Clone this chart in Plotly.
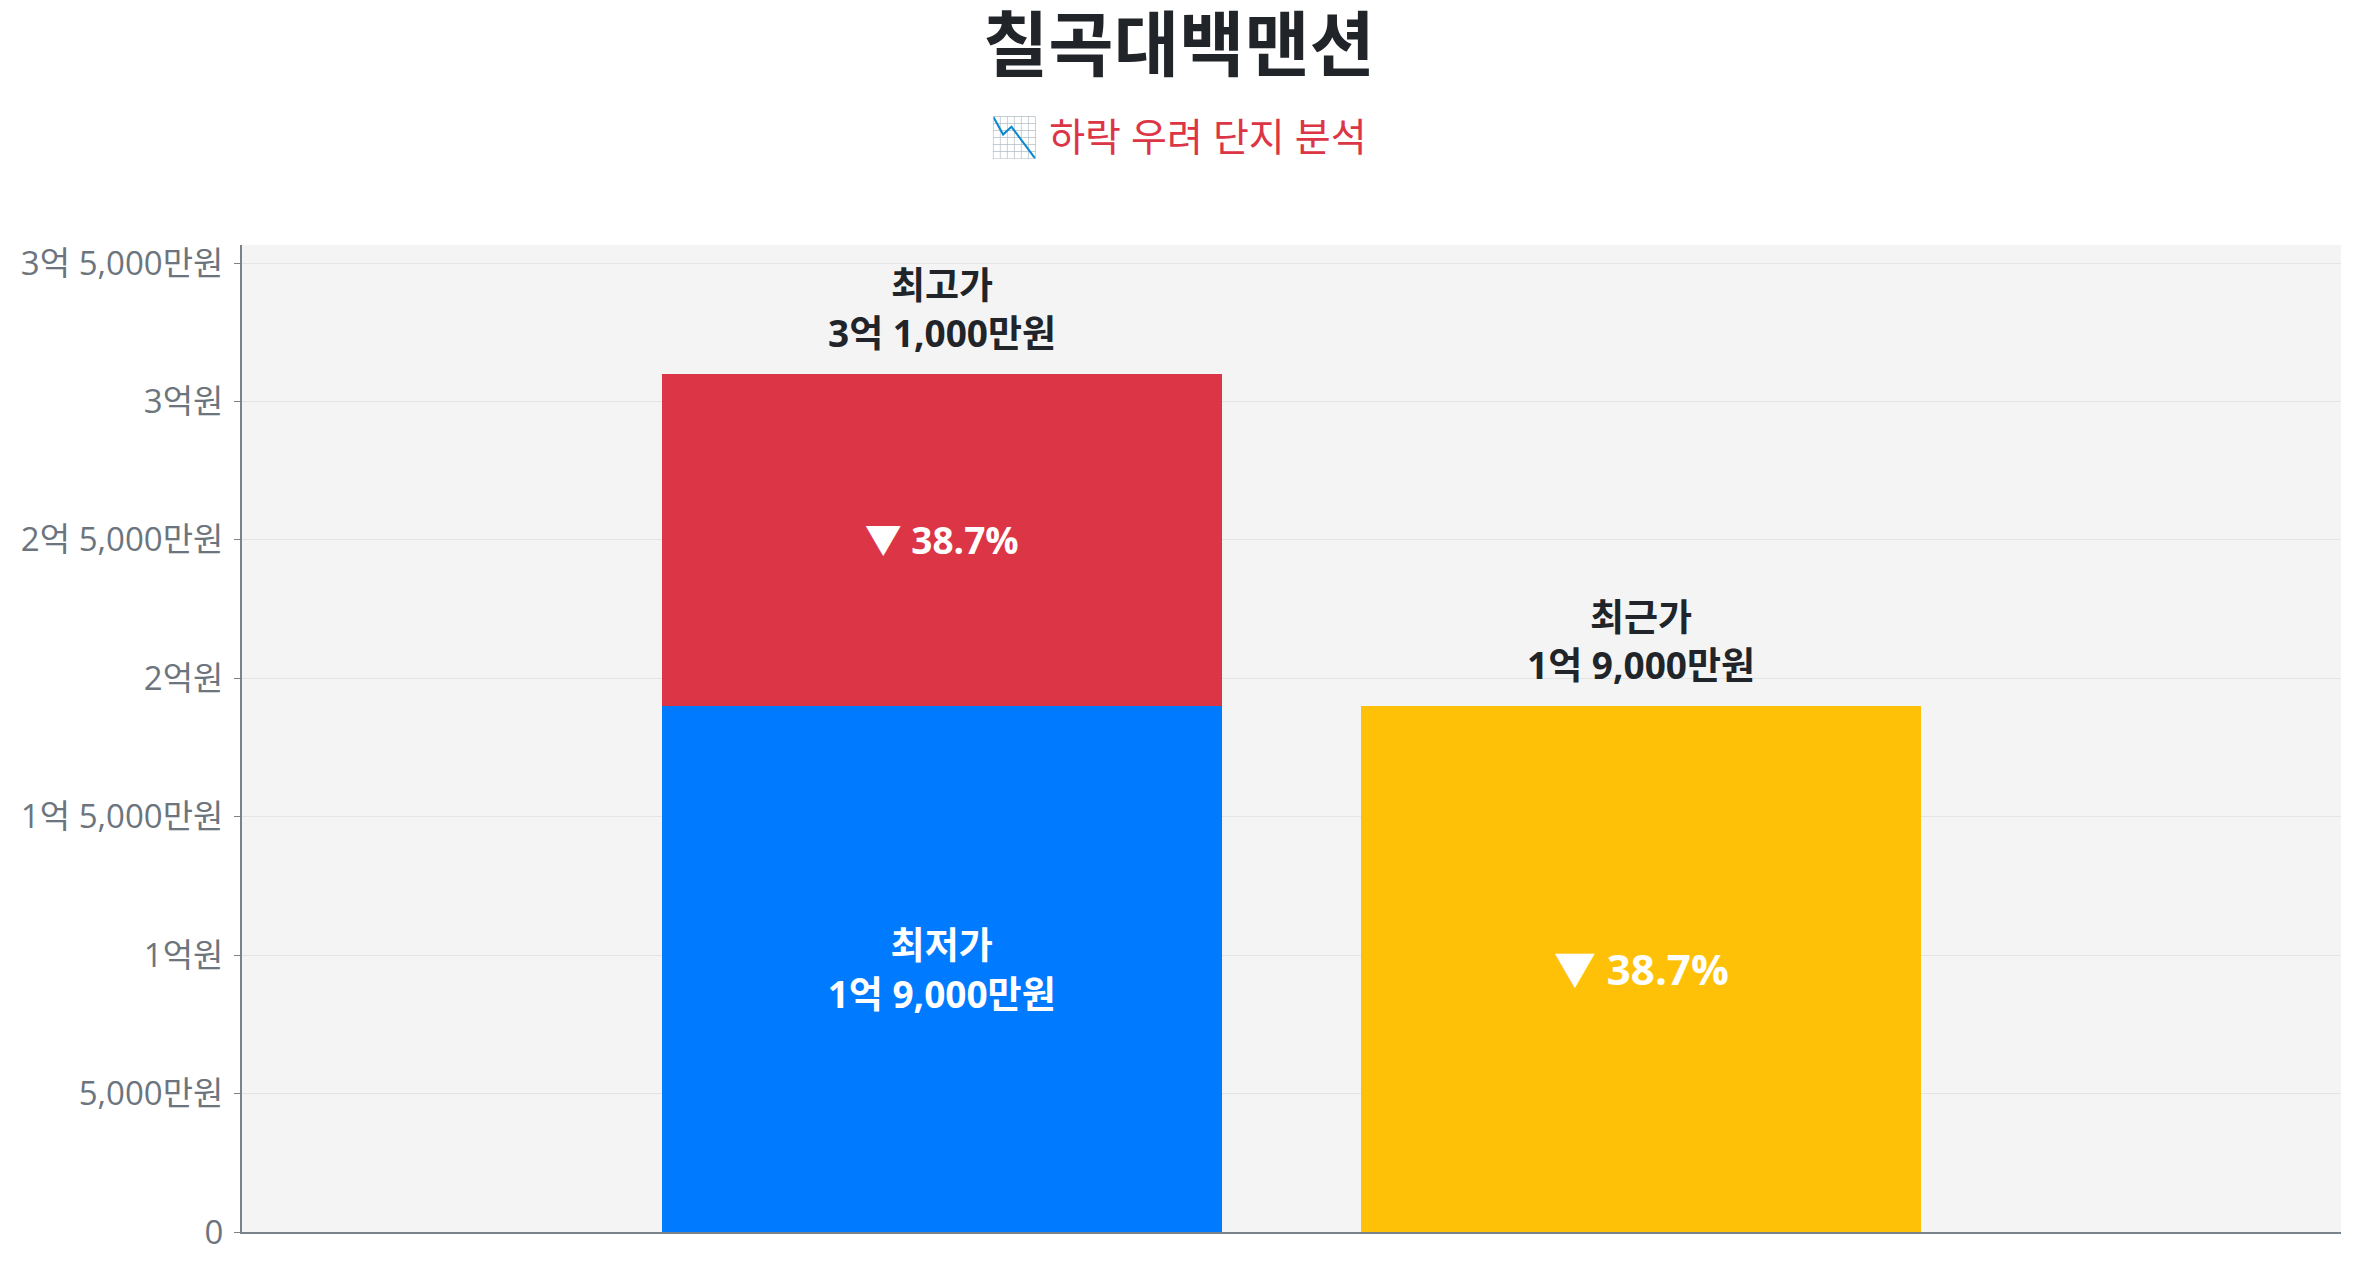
import plotly.graph_objects as go

# 가격 데이터 (원)
low_price = 190000000      # 최저가
high_price = 310000000     # 최고가
recent_price = 190000000   # 최근가
drop_rate = "▼ 38.7%"

bar_pos = [0, 1]           # 최고/최저 막대, 최근가 막대
tick_vals = [0, 50000000, 100000000, 150000000, 200000000, 250000000, 300000000, 350000000]
tick_text = ["0", "5,000만원", "1억원", "1억 5,000만원", "2억원", "2억 5,000만원", "3억원", "3억 5,000만원"]

FONT = "Open Sans, Noto Sans CJK KR"

fig = go.Figure()

# 최저가 (파랑)
fig.add_trace(go.Bar(
    x=[bar_pos[0]], y=[low_price], width=0.8,
    marker=dict(color="#007bff", line=dict(width=0)),
    text=["<b>최저가<br>1억 9,000만원</b>"],
    textposition="inside", insidetextanchor="middle",
    textfont=dict(color="white", size=37, family=FONT),
    hoverinfo="skip", showlegend=False,
))
# 최고가 - 최저가 차이 (빨강)
fig.add_trace(go.Bar(
    x=[bar_pos[0]], y=[high_price - low_price], width=0.8,
    marker=dict(color="#dc3545", line=dict(width=0)),
    text=["<b>" + drop_rate + "</b>"],
    textposition="inside", insidetextanchor="middle",
    textfont=dict(color="white", size=37, family=FONT),
    hoverinfo="skip", showlegend=False,
))
# 최근가 (노랑)
fig.add_trace(go.Bar(
    x=[bar_pos[1]], y=[recent_price], width=0.8,
    marker=dict(color="#ffc107", line=dict(width=0)),
    text=["<b>" + drop_rate + "</b>"],
    textposition="inside", insidetextanchor="middle",
    textfont=dict(color="white", size=42, family=FONT),
    hoverinfo="skip", showlegend=False,
))

# 막대 위 라벨
fig.add_annotation(x=bar_pos[0], y=high_price, yanchor="bottom", yshift=14,
                   text="<b>최고가<br>3억 1,000만원</b>", showarrow=False,
                   font=dict(size=37, color="#212529", family=FONT))
fig.add_annotation(x=bar_pos[1], y=recent_price, yanchor="bottom", yshift=14,
                   text="<b>최근가<br>1억 9,000만원</b>", showarrow=False,
                   font=dict(size=37, color="#212529", family=FONT))

# 제목 / 부제
fig.add_annotation(xref="paper", yref="paper", x=0.5, y=1.0, yshift=203, xshift=-113,
                   text="<b>칠곡대백맨션</b>", showarrow=False, yanchor="middle",
                   font=dict(size=71, color="#212529", family=FONT))
fig.add_annotation(xref="paper", yref="paper", x=0.5, y=1.0, yshift=110, xshift=-113,
                   text="📉 하락 우려 단지 분석", showarrow=False, yanchor="middle",
                   font=dict(size=39, color="#dc3545", family=FONT))

fig.update_layout(
    width=2357, height=1268,
    barmode="stack",
    margin=dict(l=234, r=24, t=237, b=44),
    paper_bgcolor="white",
    plot_bgcolor="#f4f4f4",
    font=dict(family=FONT),
    xaxis=dict(range=[-1, 2], showticklabels=False, showgrid=False, zeroline=False,
               showline=True, linecolor="#7a828a", linewidth=2, ticks=""),
    yaxis=dict(range=[0, 356500000], tickvals=tick_vals, ticktext=tick_text,
               showgrid=True, gridcolor="#e4e4e4", gridwidth=1, zeroline=False,
               showline=True, linecolor="#7a828a", linewidth=2,
               ticks="outside", ticklen=6, tickcolor="#7a828a", ticklabelstandoff=4,
               tickfont=dict(size=33, color="#6c757d", family=FONT)),
)

fig.write_html("out.html")
